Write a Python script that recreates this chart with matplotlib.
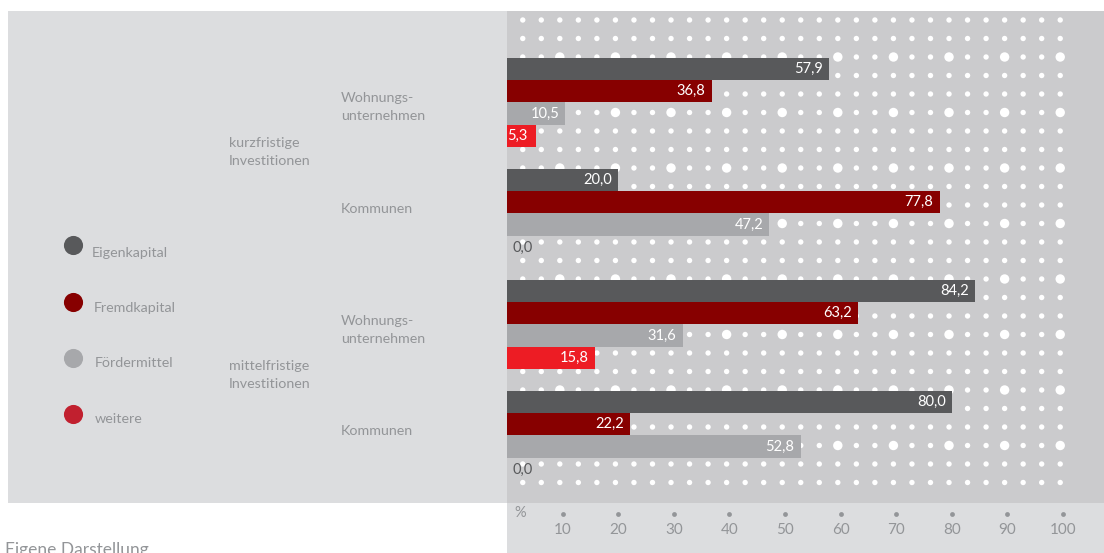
import matplotlib.pyplot as plt
from matplotlib.patches import Rectangle
from matplotlib.transforms import blended_transform_factory

plt.rcParams['font.family'] = ['Lato', 'DejaVu Sans']

# Finanzierungsanteile in Prozent, je Gruppe (WU kurz, Kommunen kurz, WU mittel, Kommunen mittel)
series = ['Eigenkapital', 'Fremdkapital', 'Fördermittel', 'weitere']
eigenkapital = [57.9, 20.0, 84.2, 80.0]
fremdkapital = [36.8, 77.8, 63.2, 22.2]
foerdermittel = [10.5, 47.2, 31.6, 52.8]
weitere = [5.3, 0.0, 15.8, 0.0]
akteure = ['Wohnungs-\nunternehmen', 'Kommunen', 'Wohnungs-\nunternehmen', 'Kommunen']
zeitraum = ['kurzfristige\nInvestitionen', 'mittelfristige\nInvestitionen']
ticks = [10, 20, 30, 40, 50, 60, 70, 80, 90, 100]

bar_colors = ['#58595b', '#870000', '#a7a8ab', '#ed1c24']
legend_colors = ['#58595b', '#870000', '#a7a8ab', '#c1202f']
text_grey = '#939598'

W, H = 1104, 553
left, top, bottom = 507, 11, 503      # plot area in pixels
slot_px = 22.2                         # height of one bar
first_top = 58                         # top edge of first bar
unit_px = 5.56                         # pixels per percent

fig = plt.figure(figsize=(W / 100, H / 100), dpi=100)
fig.patch.set_facecolor('white')

# background layer in pixel coordinates
bg = fig.add_axes([0, 0, 1, 1], zorder=0)
bg.set_xlim(0, W)
bg.set_ylim(H, 0)
bg.axis('off')
bg.add_patch(Rectangle((8, top), left - 8, bottom - top, color='#dcdddf', lw=0))
bg.add_patch(Rectangle((left, bottom), W - left, H - bottom, color='#dcdddf', lw=0))

ax = fig.add_axes([left / W, 1 - bottom / H, (W - left) / W, (bottom - top) / H], zorder=1)
ax.set_facecolor('#cbcbcd')
ax.set_xlim(0, (W - left) / unit_px)
ax.set_ylim((bottom - first_top) / slot_px, -(first_top - top) / slot_px)
for s in ax.spines.values():
    s.set_visible(False)
ax.set_xticks([])
ax.set_yticks([])

# white dot raster behind the bars
xs, ys, sizes = [], [], []
for j in range(26):
    py = 20 + 18.5 * j
    for k in range(1, 31):
        xs.append(10 * k / 3 - 0.5)
        ys.append((py - first_top) / slot_px)
        sizes.append(46 if (k % 3 == 0 and j % 3 == 2) else 15)
ax.scatter(xs, ys, s=sizes, color='white', lw=0, zorder=1)

# bars: 4 slots per group plus one empty slot
groups = list(zip(eigenkapital, fremdkapital, foerdermittel, weitere))
for g, vals in enumerate(groups):
    for i, v in enumerate(vals):
        y = g * 5 + i + 0.5
        ax.barh(y, v, height=1.0, color=bar_colors[i], lw=0, zorder=2)
        label = f'{v:.1f}'.replace('.', ',')
        if v == 0:
            ax.text(0.9, y + 0.05, label, color='#58595b', fontsize=10.5,
                    ha='left', va='center', zorder=3)
        elif v < 8:
            ax.text(0.1, y, label, color='white', fontsize=10.5,
                    ha='left', va='center', zorder=3)
        else:
            ax.text(v - 1.1, y, label, color='white', fontsize=10.5,
                    ha='right', va='center', zorder=3)

# x axis: dots and labels below the plot area
tr = blended_transform_factory(ax.transData, ax.transAxes)
ya_dot = (bottom - 514) / (bottom - top)
ya_lab = (bottom - 530) / (bottom - top)
ax.scatter(ticks, [ya_dot] * len(ticks), s=12, color=text_grey, lw=0,
           transform=tr, clip_on=False, zorder=3)
for t in ticks:
    ax.text(t, ya_lab, str(t), transform=tr, ha='center', va='center',
            color=text_grey, fontsize=11)
ax.text(2.4, (bottom - 513) / (bottom - top), '%', transform=tr, ha='center',
        va='center', color=text_grey, fontsize=10.5)

# category labels
for name, py in zip(akteure, [107, 209, 330, 431]):
    bg.text(341, py, name, ha='left', va='center', color=text_grey,
            fontsize=10.3, linespacing=1.6)
for name, py in zip(zeitraum, [152, 375]):
    bg.text(229, py, name, ha='left', va='center', color=text_grey,
            fontsize=10.3, linespacing=1.55)

# legend
for name, col, py in zip(series, legend_colors, [245, 302, 358, 414]):
    bg.scatter([73], [py], s=190, color=col, lw=0)
for name, px, py in zip(series, [92, 94, 95, 95], [253, 308, 363, 419]):
    bg.text(px, py, name, ha='left', va='center', color=text_grey, fontsize=10.3)

bg.text(5, 542, 'Eigene Darstellung', ha='left', va='top', color=text_grey,
        fontsize=12.5)

fig.savefig('out.png', dpi=100, facecolor='white')
